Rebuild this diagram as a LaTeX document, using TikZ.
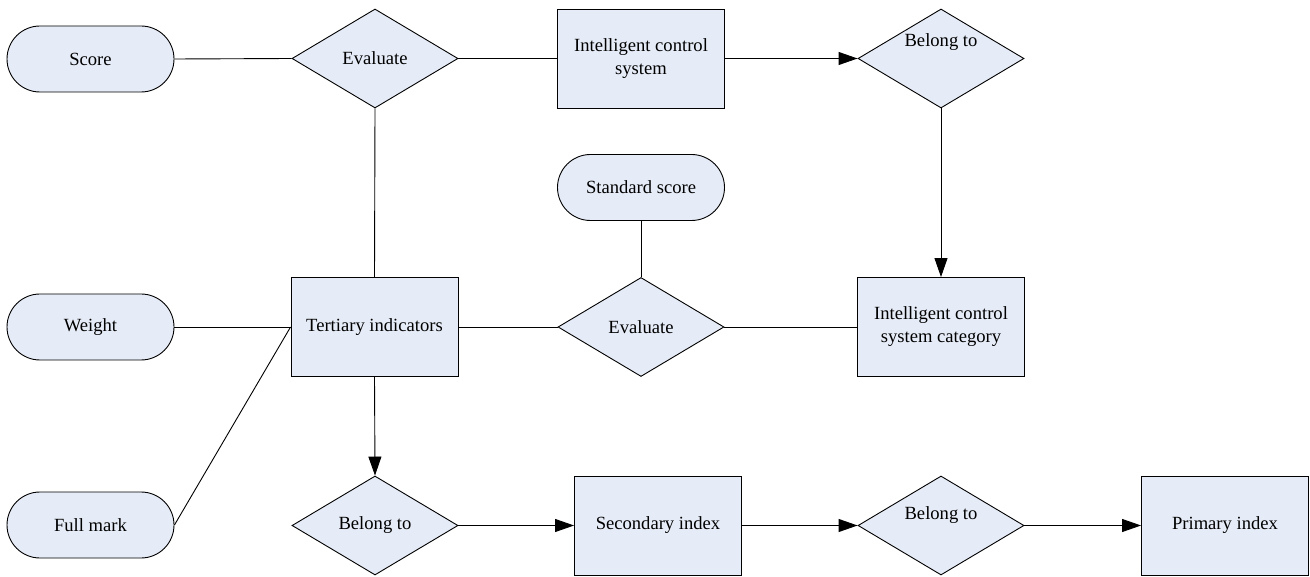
\documentclass[tikz,border=0pt]{standalone}
\usepackage{fontspec}
\setmainfont{Liberation Serif}
\newfontfamily\boxfont{Liberation Serif}
\usetikzlibrary{shapes.geometric,arrows.meta}
\definecolor{boxfill}{RGB}{230,236,247}
\tikzset{
  txt/.style={font=\boxfont\fontsize{18.6}{23}\selectfont},
  base/.style={draw=black, fill=boxfill, line width=0.9pt, inner sep=0pt,
    txt, align=center},
  termbox/.style={base, rectangle, rounded corners=33pt, minimum width=167pt, minimum height=66pt},
  procbox/.style={base, rectangle, minimum width=167pt, minimum height=99pt},
  decbox/.style={base, diamond, minimum width=166pt, minimum height=99pt},
  link/.style={line width=0.9pt, draw=black},
  arr/.style={link, -{Triangle[length=19pt,width=13pt]}},
}
\begin{document}
\begin{tikzpicture}[x=1pt,y=-1pt]
\useasboundingbox (0,0) rectangle (1310,577);

% top row
\node[termbox] (score) at (90.5,59) {Score};
\node[decbox] (eval1) at (375,58.5) {Evaluate};
\node[procbox] (ics) at (641,58.5) {Intelligent control\\system};
\node[decbox, label={[txt, yshift=16pt]center:Belong to}] (bel1) at (941,58.5) {};

% middle row
\node[termbox] (std) at (641,187.5) {Standard score};
\node[termbox] (weight) at (90.5,327) {Weight};
\node[procbox] (tert) at (374.5,327) {Tertiary indicators};
\node[decbox] (eval2) at (641,327) {Evaluate};
\node[procbox] (icscat) at (941,327) {Intelligent control\\system category};

% bottom row
\node[termbox] (full) at (90.5,525) {Full mark};
\node[decbox] (bel2) at (375,525.5) {Belong to};
\node[procbox] (sec) at (658,525.5) {Secondary index};
\node[decbox, label={[txt, yshift=10pt]center:Belong to}] (bel3) at (941,525.5) {};
\node[procbox] (prim) at (1225,525.5) {Primary index};

% plain links
\draw[link] (score.east) -- (eval1.west);
\draw[link] (eval1.east) -- (ics.west);
\draw[link] (eval1.south) -- (tert.north);
\draw[link] (weight.east) -- (tert.west);
\draw[link] (full.east) -- (tert.west);
\draw[link] (tert.east) -- (eval2.west);
\draw[link] (std.south) -- (eval2.north);
\draw[link] (eval2.east) -- (icscat.west);

% directed links
\draw[arr] (ics.east) -- (bel1.west);
\draw[arr] (bel1.south) -- (icscat.north);
\draw[arr] (tert.south) -- (bel2.north);
\draw[arr] (bel2.east) -- (sec.west);
\draw[arr] (sec.east) -- (bel3.west);
\draw[arr] (bel3.east) -- (prim.west);
\end{tikzpicture}
\end{document}
